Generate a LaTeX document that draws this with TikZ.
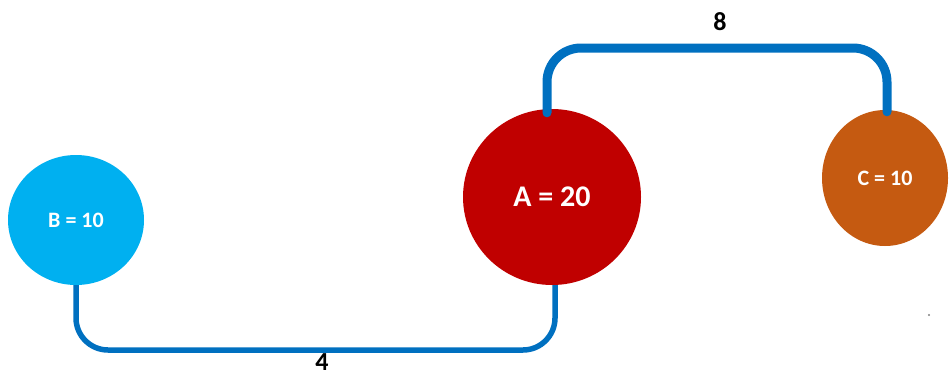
\documentclass[tikz,border=0pt]{standalone}
\usepackage{fontspec}
\setmainfont{Carlito}
\usepackage{xcolor}
\usetikzlibrary{shapes.geometric,positioning,calc}
\definecolor{linkblue}{HTML}{0070C0}
\definecolor{nodeB}{HTML}{00B0F0}
\definecolor{nodeA}{HTML}{C00000}
\definecolor{nodeC}{HTML}{C55A11}
\tikzset{
    town/.style={ellipse,fill,inner sep=0pt,text=white,font=\bfseries\fontsize{22}{26}\selectfont},
    link/.style={draw=linkblue,line width=5.5pt,rounded corners=32pt},
    toplink/.style={draw=linkblue,line width=9pt,line cap=round,rounded corners=34pt},
    weight/.style={inner sep=0pt,font=\bfseries\fontsize{26}{30}\selectfont,text=black}
}
\begin{document}
\begin{tikzpicture}[x=1pt,y=-1pt]
    \useasboundingbox (0,0) rectangle (949,378);
    \node[town,fill=nodeB,minimum width=136pt,minimum height=130pt] (B) at (76,220) {B = 10};
    \node[town,fill=nodeA,minimum width=178pt,minimum height=176pt,
          font=\bfseries\fontsize{30}{34}\selectfont] (A) at (552,197) {A = 20};
    \node[town,fill=nodeC,minimum width=126pt,minimum height=136pt] (C) at (885,178) {C = 10};

    \coordinate (bend4) at (320,350);
    \coordinate (bend8) at (720,48);
    \draw[link] (B.south) |- (bend4) -| ([xshift=3pt]A.south);
    \draw[toplink] ([xshift=-5pt,yshift=-4pt]A.north) |- (bend8) -| ([xshift=2pt,yshift=-2pt]C.north);

    \node[weight] (w4) at (322,362) {4};
    \node[weight] (w8) at (720,22) {8};
    \fill[gray] (929,315) circle (1.1pt);
\end{tikzpicture}
\end{document}
